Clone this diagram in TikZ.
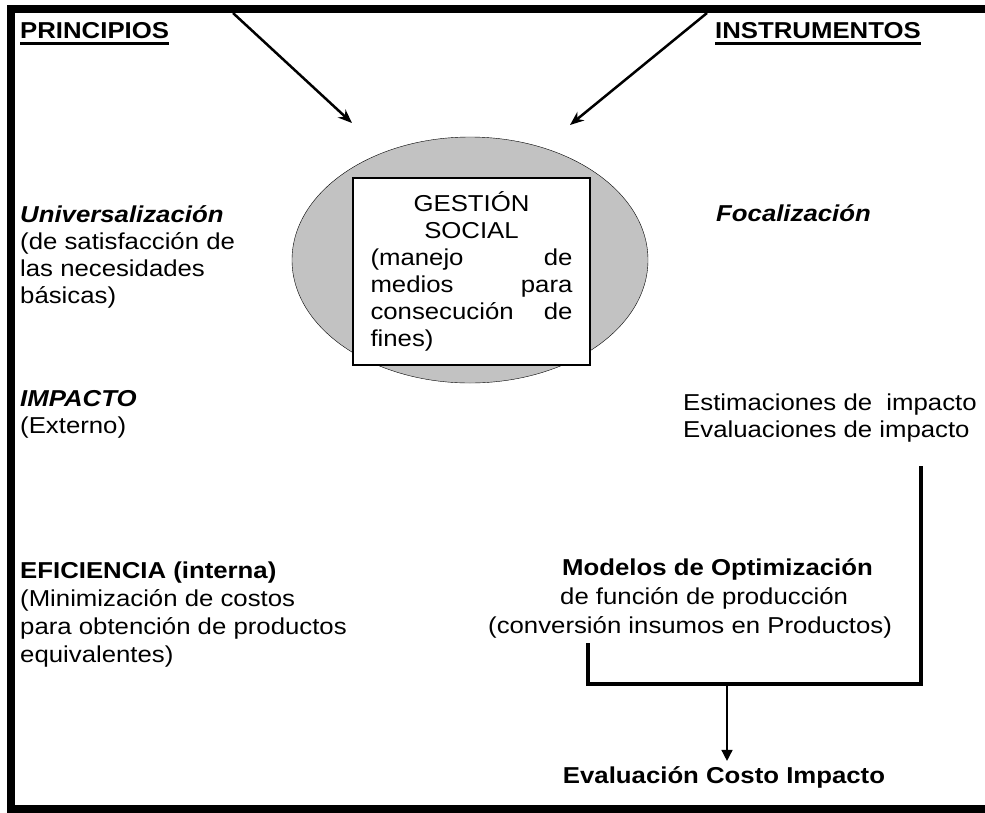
\documentclass[tikz,border=0pt]{standalone}
\usepackage{fontspec}
\setmainfont{Liberation Sans}[FakeStretch=1.12]
\usepackage{tikz}
\usetikzlibrary{shapes.geometric,arrows.meta}

\tikzset{
  txt/.style={anchor=base west, inner sep=0pt, align=left, font=\fontsize{23}{27}\selectfont},
  bracket/.style={line width=4pt},
  feed/.style={line width=2.5pt, -{Stealth[length=14pt,width=11pt]}},
}

\begin{document}
\begin{tikzpicture}[x=1pt,y=-1pt]
  \useasboundingbox (0,0) rectangle (985,812);
  \draw[line width=8pt] (985,9) -- (11,9) -- (11,809) -- (985,809);

  \node[ellipse, draw, fill=black!24, inner sep=0pt, minimum width=356pt, minimum height=246pt] (elipse) at (470,260) {};
  \node[draw, fill=white, line width=1.2pt, minimum width=237pt, minimum height=187pt,
        text width=202pt, align=center, inner sep=0pt, font=\fontsize{23}{27}\selectfont] (gestion) at (471.5,271.5)
       {GESTIÓN\\ SOCIAL\\ (manejo\hfill de\\ medios\hfill para\\ consecución\hfill de\\ fines)\hfill\null};

  \node[txt, font=\fontsize{23}{27}\selectfont\bfseries] (princ) at (20,38) {PRINCIPIOS};
  \node[txt, font=\fontsize{23}{27}\selectfont\bfseries] (instr) at (715,38) {INSTRUMENTOS};
  \draw[line width=2.5pt] ([yshift=-5pt]princ.south west) -- ([yshift=-5pt]princ.south east);
  \draw[line width=2.5pt] ([yshift=-5pt]instr.south west) -- ([yshift=-5pt]instr.south east);

  \coordinate (ta) at (233,13);
  \coordinate (ha) at (352,123);
  \coordinate (tb) at (707,13);
  \coordinate (hb) at (570,125);
  \draw[feed] (ta) -- (ha);
  \draw[feed] (tb) -- (hb);

  \node[txt] (univ) at (20,303) {\textbf{\textit{Universalización}}\\ (de satisfacción de\\ las necesidades\\ básicas)};
  \node[txt] (impacto) at (20,433) {\textbf{\textit{IMPACTO}}\\ (Externo)};
  \node[txt, font=\fontsize{23}{28}\selectfont] (efic) at (20,662) {\textbf{EFICIENCIA (interna)}\\ (Minimización de costos\\ para obtención de productos\\ equivalentes)};

  \node[txt] (focal) at (716,221) {\textbf{\textit{Focalización}}};
  \node[txt] (estim) at (683,437) {Estimaciones de\ \ impacto\\ Evaluaciones de impacto};
  \node[txt, font=\fontsize{23}{29}\selectfont] (modelos) at (488,633)
       {\hspace*{74pt}\textbf{Modelos de Optimización}\\ \hspace*{72pt}de función de producción\\ (conversión insumos en Productos)};
  \node[txt, anchor=base, font=\fontsize{23}{27}\selectfont\bfseries] (eci) at (724,783) {Evaluación Costo Impacto};

  \coordinate (r1) at (921,466);
  \coordinate (r2) at (921,684);
  \coordinate (l2) at (588,684);
  \coordinate (l1) at (588,643);
  \coordinate (mid) at (727,684);
  \draw[bracket] (r1) -- (r2) -- (l2) -- (l1);
  \draw[line width=1.5pt, -{Triangle[length=11pt,width=11pt]}, shorten >=5pt] (mid) -- (mid |- eci.north);
\end{tikzpicture}
\end{document}
